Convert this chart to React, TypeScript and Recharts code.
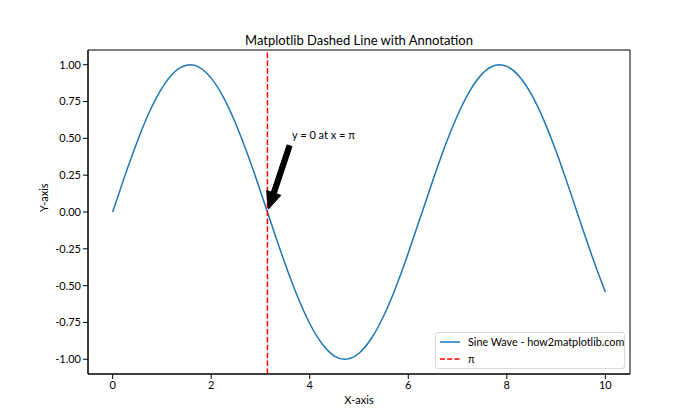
import React from 'react'
import {
  LineChart,
  Line,
  XAxis,
  YAxis,
  ReferenceLine,
  ReferenceArea,
  Label
} from 'recharts'

// valores (passo de 0.25 no eixo x)
const xValues = [
  0, 0.25, 0.5, 0.75, 1, 1.25, 1.5, 1.75, 2, 2.25, 2.5, 2.75, 3, 3.25, 3.5,
  3.75, 4, 4.25, 4.5, 4.75, 5, 5.25, 5.5, 5.75, 6, 6.25, 6.5, 6.75, 7, 7.25,
  7.5, 7.75, 8, 8.25, 8.5, 8.75, 9, 9.25, 9.5, 9.75, 10
]
const sineValues = [
  0, 0.247, 0.479, 0.682, 0.841, 0.949, 0.997, 0.984, 0.909, 0.778, 0.598,
  0.382, 0.141, -0.108, -0.351, -0.572, -0.757, -0.895, -0.978, -0.999,
  -0.959, -0.859, -0.706, -0.509, -0.279, -0.033, 0.215, 0.451, 0.657, 0.823,
  0.938, 0.995, 0.989, 0.922, 0.798, 0.624, 0.412, 0.174, -0.075, -0.319,
  -0.544
]
const xTicks = [0, 2, 4, 6, 8, 10]
const yTicks = [-1, -0.75, -0.5, -0.25, 0, 0.25, 0.5, 0.75, 1]
const piX = 3.14159
const annotationText = 'y = 0 at x = π'
const annotationFrom = { x: 3.64, y: 0.5 }
const annotationTo = { x: piX, y: 0 }

const data = xValues.map((x, i) => ({ x, y: sineValues[i] }))

const FONT = 'Lato, "Noto Sans", sans-serif'

// seta preta grossa (estilo matplotlib, shrink 5%)
function Arrow(props: any) {
  const { x1, y1, x2, y2 } = props
  if (x1 == null || x2 == null) return null
  const dx = x2 - x1
  const dy = y2 - y1
  const len = Math.sqrt(dx * dx + dy * dy)
  const ux = dx / len
  const uy = dy / len
  const sx = x1 + ux * len * 0.1
  const sy = y1 + uy * len * 0.1
  const ex = x2 - ux * len * 0.04
  const ey = y2 - uy * len * 0.04
  const px = -uy
  const py = ux
  const shaft = 2.6
  const headW = 7.5
  const headL = 17
  const bx = ex - ux * headL
  const by = ey - uy * headL
  const pts = [
    [sx + px * shaft, sy + py * shaft],
    [bx + px * shaft, by + py * shaft],
    [bx + px * headW, by + py * headW],
    [ex, ey],
    [bx - px * headW, by - py * headW],
    [bx - px * shaft, by - py * shaft],
    [sx - px * shaft, sy - py * shaft]
  ]
  return (
    <g>
      <polygon points={pts.map(p => p.join(',')).join(' ')} fill='#000' stroke='#000' strokeWidth={1} />
      <text x={x1} y={y1 + 1} fontSize={11} fontFamily={FONT} fill='#000'>
        {annotationText}
      </text>
    </g>
  )
}

export default function App() {
  return (
    <div style={{ position: 'absolute', left: 0, top: 0, width: 700, height: 420, background: '#fff', fontFamily: FONT }}>
      <div style={{ position: 'absolute', top: 32, left: 88, width: 542, textAlign: 'center', fontSize: 13, lineHeight: '16px', color: '#000' }}>
        Matplotlib Dashed Line with Annotation
      </div>
      <LineChart
        width={700}
        height={420}
        data={data}
        margin={{ top: 50, right: 70, left: 0, bottom: 0 }}
      >
        <XAxis
          dataKey='x'
          type='number'
          domain={[-0.5, 10.5]}
          ticks={xTicks}
          allowDataOverflow
          height={46}
          tickSize={5}
          stroke='#000'
          tick={{ fill: '#000', fontSize: 11, fontFamily: FONT }}
          tickLine={{ stroke: '#000' }}
        >
          <Label value='X-axis' position='insideBottom' offset={16} fill='#000' fontSize={11} fontFamily={FONT} />
        </XAxis>
        <YAxis
          type='number'
          domain={[-1.1, 1.1]}
          ticks={yTicks}
          allowDataOverflow
          width={88}
          tickSize={5}
          stroke='#000'
          tickFormatter={(v: number) => v.toFixed(2)}
          tick={{ fill: '#000', fontSize: 11, fontFamily: FONT }}
          tickLine={{ stroke: '#000' }}
        >
          <Label value='Y-axis' angle={-90} position='insideLeft' offset={44} fill='#000' fontSize={11} fontFamily={FONT} />
        </YAxis>
        <ReferenceArea x1={-0.5} x2={10.5} y1={-1.1} y2={1.1} fill='none' stroke='#000' strokeWidth={1} />
        <Line
          type='natural'
          dataKey='y'
          stroke='#1f77b4'
          strokeWidth={1.5}
          dot={false}
          isAnimationActive={false}
        />
        <ReferenceLine x={piX} stroke='#ff0000' strokeWidth={1.5} strokeDasharray='5.5 2.4' />
        <ReferenceLine
          segment={[annotationFrom, annotationTo]}
          shape={<Arrow />}
        />
      </LineChart>
      <div
        style={{
          position: 'absolute',
          left: 435,
          top: 332,
          width: 190,
          height: 37,
          border: '1px solid #d9d9d9',
          borderRadius: 3,
          background: 'rgba(255,255,255,0.8)',
          fontSize: 10.8,
          color: '#000',
          boxSizing: 'border-box',
          padding: '0 0 0 4px',
          lineHeight: '17px',
          whiteSpace: 'nowrap'
        }}
      >
        <div style={{ display: 'flex', alignItems: 'center' }}>
          <svg width={20} height={10} style={{ marginRight: 8, flexShrink: 0 }}>
            <line x1={0} y1={5} x2={20} y2={5} stroke='#1f77b4' strokeWidth={1.5} />
          </svg>
          Sine Wave - how2matplotlib.com
        </div>
        <div style={{ display: 'flex', alignItems: 'center' }}>
          <svg width={20} height={10} style={{ marginRight: 8, flexShrink: 0 }}>
            <line x1={0} y1={5} x2={20} y2={5} stroke='#ff0000' strokeWidth={1.5} strokeDasharray='5 2.2' />
          </svg>
          π
        </div>
      </div>
    </div>
  )
}
